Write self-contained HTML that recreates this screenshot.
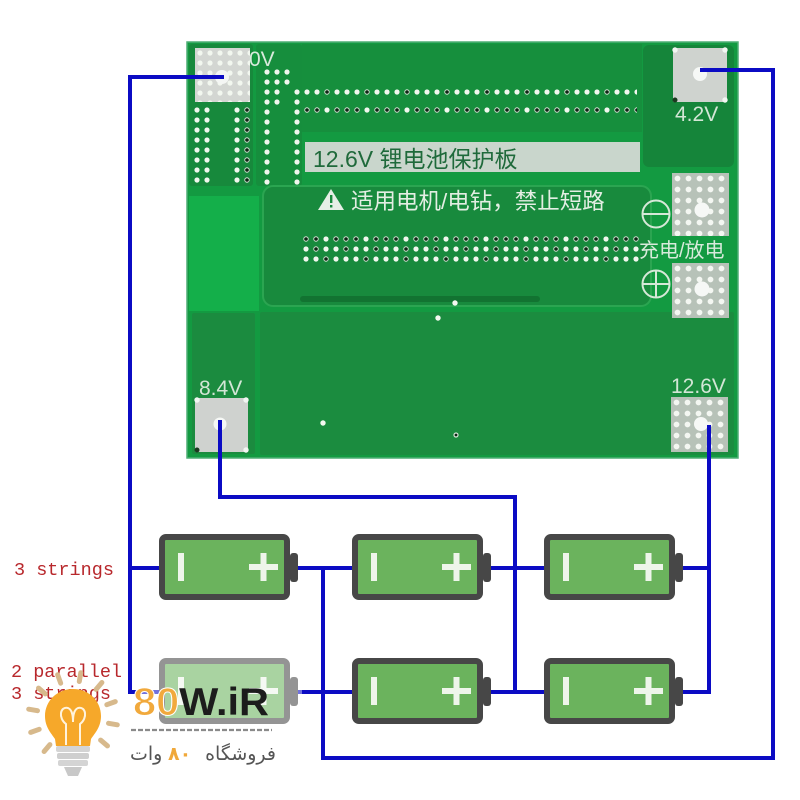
<!DOCTYPE html>
<html><head><meta charset="utf-8">
<style>
html,body{margin:0;padding:0;background:#fff;width:800px;height:800px;overflow:hidden}
svg{display:block}
</style></head><body>
<svg width="800" height="800" viewBox="0 0 800 800" xmlns="http://www.w3.org/2000/svg">
<defs>
 <pattern id="pw" width="10" height="10" patternUnits="userSpaceOnUse"><circle cx="5" cy="5" r="2.6" fill="#f2f7ef"/></pattern>
 <pattern id="pw11" width="11" height="11" patternUnits="userSpaceOnUse"><circle cx="5.5" cy="5.5" r="2.9" fill="#f4f7f2"/></pattern>
 <pattern id="pdA" width="40" height="10" patternUnits="userSpaceOnUse">
   <circle cx="5" cy="5" r="2.6" fill="#f2f7ef"/>
   <circle cx="15" cy="5" r="2.6" fill="#f2f7ef"/>
   <circle cx="25" cy="5" r="2.7" fill="#d8e6d8"/><circle cx="25" cy="5" r="1.8" fill="#0d2614"/>
   <circle cx="35" cy="5" r="2.6" fill="#f2f7ef"/>
 </pattern>
 <pattern id="pdB" width="40" height="10" patternUnits="userSpaceOnUse">
   <circle cx="5" cy="5" r="2.7" fill="#d8e6d8"/><circle cx="5" cy="5" r="1.8" fill="#0d2614"/>
   <circle cx="15" cy="5" r="2.7" fill="#d8e6d8"/><circle cx="15" cy="5" r="1.8" fill="#0d2614"/>
   <circle cx="25" cy="5" r="2.6" fill="#f2f7ef"/>
   <circle cx="35" cy="5" r="2.7" fill="#d8e6d8"/><circle cx="35" cy="5" r="1.8" fill="#0d2614"/>
 </pattern>
 <pattern id="pdC" width="30" height="10" patternUnits="userSpaceOnUse">
   <circle cx="5" cy="5" r="2.6" fill="#f2f7ef"/>
   <circle cx="15" cy="5" r="2.7" fill="#d8e6d8"/><circle cx="15" cy="5" r="1.8" fill="#0d2614"/>
   <circle cx="25" cy="5" r="2.6" fill="#f2f7ef"/>
 </pattern>
</defs>

<rect width="800" height="800" fill="#ffffff"/>

<!-- ================= BOARD ================= -->
<rect x="187" y="42" width="551" height="416" fill="#139a41"/>
<rect x="187" y="42" width="551" height="416" fill="none" stroke="#4fae75" stroke-width="1.5"/>
<rect x="189" y="44" width="64" height="142" rx="3" fill="#17893c"/>
<rect x="256" y="44" width="46" height="142" rx="3" fill="#168e3d"/>
<rect x="189" y="196" width="70" height="115" fill="#14af4a"/>
<rect x="302" y="44" width="340" height="88" fill="#168f3d"/>
<rect x="263" y="186" width="388" height="120" rx="10" fill="#188a3d" stroke="#2ba551" stroke-width="2"/>
<rect x="300" y="296" width="240" height="6" rx="3" fill="#0f6a2c" opacity="0.7"/>
<rect x="192" y="313" width="63" height="141" rx="2" fill="#1b8b3f"/>
<rect x="260" y="312" width="474" height="143" rx="2" fill="#1b8c3f"/>
<rect x="643" y="45" width="91" height="122" rx="6" fill="#15853a"/>

<!-- 0V pad -->
<rect x="195" y="48" width="55" height="54" fill="#d3d6d2"/>
<g transform="translate(195,48)"><rect width="55" height="54" fill="url(#pw)"/></g>
<circle cx="222" cy="77" r="7" fill="#f4f6f4"/>
<text x="249" y="66" font-family="Liberation Sans, sans-serif" font-size="21" fill="#d8eadc">0V</text>

<!-- left columns of dots -->
<g transform="translate(192,105)"><rect width="20" height="80" fill="url(#pw)"/></g>
<g transform="translate(232,105)"><rect width="20" height="80" fill="url(#pdC)"/></g>
<g transform="translate(262,67)"><rect width="10" height="120" fill="url(#pw)"/></g>
<g transform="translate(272,67)"><rect width="10" height="40" fill="url(#pw)"/></g>
<g transform="translate(282,67)"><rect width="10" height="20" fill="url(#pdC)"/></g>
<g transform="translate(292,87)"><rect width="10" height="100" fill="url(#pw)"/></g>

<!-- top dot rows -->
<g transform="translate(302,87)"><rect width="335" height="10" fill="url(#pdA)"/></g>
<g transform="translate(302,105)"><rect width="335" height="10" fill="url(#pdB)"/></g>

<!-- label box -->
<rect x="305" y="142" width="335" height="30" fill="#c9d6cc"/>
<text x="313" y="167" font-family="Liberation Sans, 'Noto Sans CJK SC', sans-serif" font-size="23" fill="#1f6a3b">12.6V 锂电池保护板</text>

<!-- warning line -->
<polygon points="331,189 344,210 318,210" fill="#e6efe6"/>
<rect x="330" y="195" width="2.4" height="8" fill="#188a3d"/>
<rect x="330" y="205" width="2.4" height="2.5" fill="#188a3d"/>
<text x="351" y="209" font-family="Liberation Sans, 'Noto Sans CJK SC', sans-serif" font-size="22.5" fill="#e3eee3">适用电机/电钻，禁止短路</text>

<!-- bottom dot rows -->
<g transform="translate(301,234)"><rect width="340" height="10" fill="url(#pdB)"/></g>
<g transform="translate(301,244)"><rect width="340" height="10" fill="url(#pdC)"/></g>
<g transform="translate(301,254)"><rect width="340" height="10" fill="url(#pdA)"/></g>

<!-- scattered vias -->
<circle cx="455" cy="303" r="2.7" fill="#f4f8f0"/>
<circle cx="438" cy="318" r="2.7" fill="#f4f8f0"/>
<circle cx="323" cy="423" r="2.7" fill="#f4f8f0"/>
<circle cx="456" cy="435" r="2.6" fill="#d8e6d8"/><circle cx="456" cy="435" r="1.4" fill="#0d2614"/>

<!-- 4.2V pad -->
<rect x="673" y="48" width="54" height="54" fill="#cfd3cf"/>
<circle cx="675" cy="50" r="2.7" fill="#f2f6f2"/><circle cx="725" cy="50" r="2.7" fill="#f2f6f2"/>
<circle cx="725" cy="100" r="2.7" fill="#f2f6f2"/><circle cx="675" cy="100" r="2.5" fill="#1b3a20"/>
<circle cx="700" cy="74" r="7" fill="#f6f8f6"/>
<text x="675" y="121" font-family="Liberation Sans, sans-serif" font-size="21" fill="#d3e6d6">4.2V</text>

<!-- minus / plus symbols -->
<circle cx="656" cy="214" r="13.5" fill="none" stroke="#d6e8d8" stroke-width="2"/>
<line x1="643" y1="214" x2="669" y2="214" stroke="#d6e8d8" stroke-width="2"/>
<circle cx="656" cy="284" r="13.5" fill="none" stroke="#d6e8d8" stroke-width="2"/>
<line x1="643" y1="284" x2="669" y2="284" stroke="#d6e8d8" stroke-width="2"/>
<line x1="656" y1="271" x2="656" y2="297" stroke="#d6e8d8" stroke-width="2"/>
<text x="639" y="257" font-family="Liberation Sans, 'Noto Sans CJK SC', sans-serif" font-size="20" fill="#d8eadb">充电/放电</text>

<!-- dotted right pads -->
<rect x="672" y="173" width="57" height="63" fill="#b7c2b8"/>
<g transform="translate(672,173)"><rect width="57" height="63" fill="url(#pw11)"/></g>
<circle cx="702" cy="210" r="7.5" fill="#f6f8f6"/>
<rect x="672" y="263" width="57" height="55" fill="#b7c2b8"/>
<g transform="translate(672,263)"><rect width="57" height="55" fill="url(#pw11)"/></g>
<circle cx="702" cy="289" r="7.5" fill="#f6f8f6"/>

<!-- 12.6V pad -->
<text x="671" y="393" font-family="Liberation Sans, sans-serif" font-size="21" fill="#d3e6d6">12.6V</text>
<rect x="671" y="397" width="57" height="55" fill="#b7c2b8"/>
<g transform="translate(671,397)"><rect width="57" height="55" fill="url(#pw11)"/></g>
<circle cx="701" cy="424" r="7" fill="#f6f8f6"/>

<!-- 8.4V pad -->
<text x="199" y="395" font-family="Liberation Sans, sans-serif" font-size="21" fill="#d3e6d6">8.4V</text>
<rect x="195" y="398" width="53" height="54" fill="#cfd2cf"/>
<circle cx="197" cy="400" r="2.7" fill="#f2f6f2"/><circle cx="246" cy="400" r="2.7" fill="#f2f6f2"/>
<circle cx="246" cy="450" r="2.7" fill="#f2f6f2"/><circle cx="197" cy="450" r="2.5" fill="#1b3a20"/>
<circle cx="220" cy="424" r="6.5" fill="#f6f8f6"/>

<!-- ================= WIRES ================= -->
<g fill="none" stroke="#0b0bc4" stroke-width="4" stroke-linejoin="miter" stroke-linecap="square">
  <path d="M222 77 H130 V692 H160"/>
  <path d="M130 568 H160"/>
  <path d="M297 568 H352"/>
  <path d="M489 568 H544"/>
  <path d="M681 568 H709"/>
  <path d="M297 692 H352"/>
  <path d="M489 692 H544"/>
  <path d="M681 692 H709 V427"/>
  <path d="M220 422 V497 H515 V692"/>
  <path d="M323 568 V758 H773 V70 H702"/>
</g>

<!-- ================= BATTERIES ================= -->
<g>
  <g transform="translate(159,534)">
    <rect x="3" y="3" width="125" height="60" rx="4" fill="#6bb35d" stroke="#474747" stroke-width="6"/>
    <rect x="131" y="19" width="8" height="29" rx="3" fill="#474747"/>
    <rect x="19" y="19" width="6" height="28" fill="#eef5ea"/>
    <rect x="90" y="30" width="29" height="6" fill="#eef5ea"/>
    <rect x="101.5" y="19" width="6" height="28" fill="#eef5ea"/>
  </g>
  <g transform="translate(352,534)">
    <rect x="3" y="3" width="125" height="60" rx="4" fill="#6bb35d" stroke="#474747" stroke-width="6"/>
    <rect x="131" y="19" width="8" height="29" rx="3" fill="#474747"/>
    <rect x="19" y="19" width="6" height="28" fill="#eef5ea"/>
    <rect x="90" y="30" width="29" height="6" fill="#eef5ea"/>
    <rect x="101.5" y="19" width="6" height="28" fill="#eef5ea"/>
  </g>
  <g transform="translate(544,534)">
    <rect x="3" y="3" width="125" height="60" rx="4" fill="#6bb35d" stroke="#474747" stroke-width="6"/>
    <rect x="131" y="19" width="8" height="29" rx="3" fill="#474747"/>
    <rect x="19" y="19" width="6" height="28" fill="#eef5ea"/>
    <rect x="90" y="30" width="29" height="6" fill="#eef5ea"/>
    <rect x="101.5" y="19" width="6" height="28" fill="#eef5ea"/>
  </g>
  <g transform="translate(159,658)">
    <rect x="3" y="3" width="125" height="60" rx="4" fill="#6bb35d" stroke="#474747" stroke-width="6"/>
    <rect x="131" y="19" width="8" height="29" rx="3" fill="#474747"/>
    <rect x="19" y="19" width="6" height="28" fill="#eef5ea"/>
    <rect x="90" y="30" width="29" height="6" fill="#eef5ea"/>
    <rect x="101.5" y="19" width="6" height="28" fill="#eef5ea"/>
  </g>
  <g transform="translate(352,658)">
    <rect x="3" y="3" width="125" height="60" rx="4" fill="#6bb35d" stroke="#474747" stroke-width="6"/>
    <rect x="131" y="19" width="8" height="29" rx="3" fill="#474747"/>
    <rect x="19" y="19" width="6" height="28" fill="#eef5ea"/>
    <rect x="90" y="30" width="29" height="6" fill="#eef5ea"/>
    <rect x="101.5" y="19" width="6" height="28" fill="#eef5ea"/>
  </g>
  <g transform="translate(544,658)">
    <rect x="3" y="3" width="125" height="60" rx="4" fill="#6bb35d" stroke="#474747" stroke-width="6"/>
    <rect x="131" y="19" width="8" height="29" rx="3" fill="#474747"/>
    <rect x="19" y="19" width="6" height="28" fill="#eef5ea"/>
    <rect x="90" y="30" width="29" height="6" fill="#eef5ea"/>
    <rect x="101.5" y="19" width="6" height="28" fill="#eef5ea"/>
  </g>
</g>

<!-- ================= LABELS ================= -->
<text x="14" y="575" font-family="Liberation Mono, monospace" font-size="18.5" fill="#b8282c">3 strings</text>
<text x="11" y="677" font-family="Liberation Mono, monospace" font-size="18.5" fill="#b8282c">2 parallel</text>
<text x="11" y="699" font-family="Liberation Mono, monospace" font-size="18.5" fill="#b8282c">3 strings</text>

<!-- ================= LOGO ================= -->
<rect x="138" y="652" width="164" height="120" fill="#ffffff" opacity="0.42"/>
<g stroke="#d7b98c" stroke-width="5" stroke-linecap="round">
  <line x1="39.2" y1="729.3" x2="30.7" y2="732.4"/>
  <line x1="37.5" y1="710.7" x2="28.7" y2="709.2"/>
  <line x1="45.4" y1="693.9" x2="38.5" y2="688.1"/>
  <line x1="60.7" y1="683.2" x2="57.6" y2="674.7"/>
  <line x1="79.3" y1="681.5" x2="80.8" y2="672.7"/>
  <line x1="96.1" y1="689.4" x2="101.9" y2="682.5"/>
  <line x1="106.8" y1="704.7" x2="115.3" y2="701.6"/>
  <line x1="108.5" y1="723.3" x2="117.3" y2="724.8"/>
  <line x1="100.6" y1="740.1" x2="107.5" y2="745.9"/>
  <line x1="49.9" y1="744.6" x2="44.1" y2="751.5"/>
</g>
<path d="M73 689 C 89 689 101 701 101 716 C 101 727 95 733 91 739 L 90 746 L 56 746 L 55 739 C 51 733 45 727 45 716 C 45 701 57 689 73 689 Z" fill="#f6a82a"/>
<path d="M66 745 V724 C 58 718 60 706 68 708 C 73 710 73 718 73 722 C 73 718 73 710 78 708 C 86 706 88 718 80 724 V745" fill="none" stroke="#fff3dd" stroke-width="2"/>
<rect x="56" y="746" width="34" height="6" rx="2" fill="#d4d4d4"/>
<rect x="57" y="753" width="32" height="6" rx="2" fill="#cfcfcf"/>
<rect x="58" y="760" width="30" height="6" rx="2" fill="#d4d4d4"/>
<path d="M64 767 H82 L78 776 H68 Z" fill="#c8c8c8"/>

<text x="133" y="715" font-family="Liberation Sans, sans-serif" font-weight="bold" font-size="39" textLength="136" lengthAdjust="spacingAndGlyphs"><tspan fill="#f1a93c" stroke="#ffffff" stroke-width="1">80</tspan><tspan fill="#1c1c1c">W.iR</tspan></text>
<line x1="131" y1="730" x2="272" y2="730" stroke="#8a8a8a" stroke-width="2.2" stroke-dasharray="5 2"/>
<text x="130" y="760" font-family="'DejaVu Sans', sans-serif" font-size="19" fill="#555555">وات</text>
<text x="168" y="760" font-family="'DejaVu Sans', sans-serif" font-size="19" font-weight="bold" fill="#f0a83a">۸۰</text>
<text x="276" y="760" text-anchor="end" font-family="'DejaVu Sans', sans-serif" font-size="19" fill="#555555">فروشگاه</text>
</svg>
</body></html>
